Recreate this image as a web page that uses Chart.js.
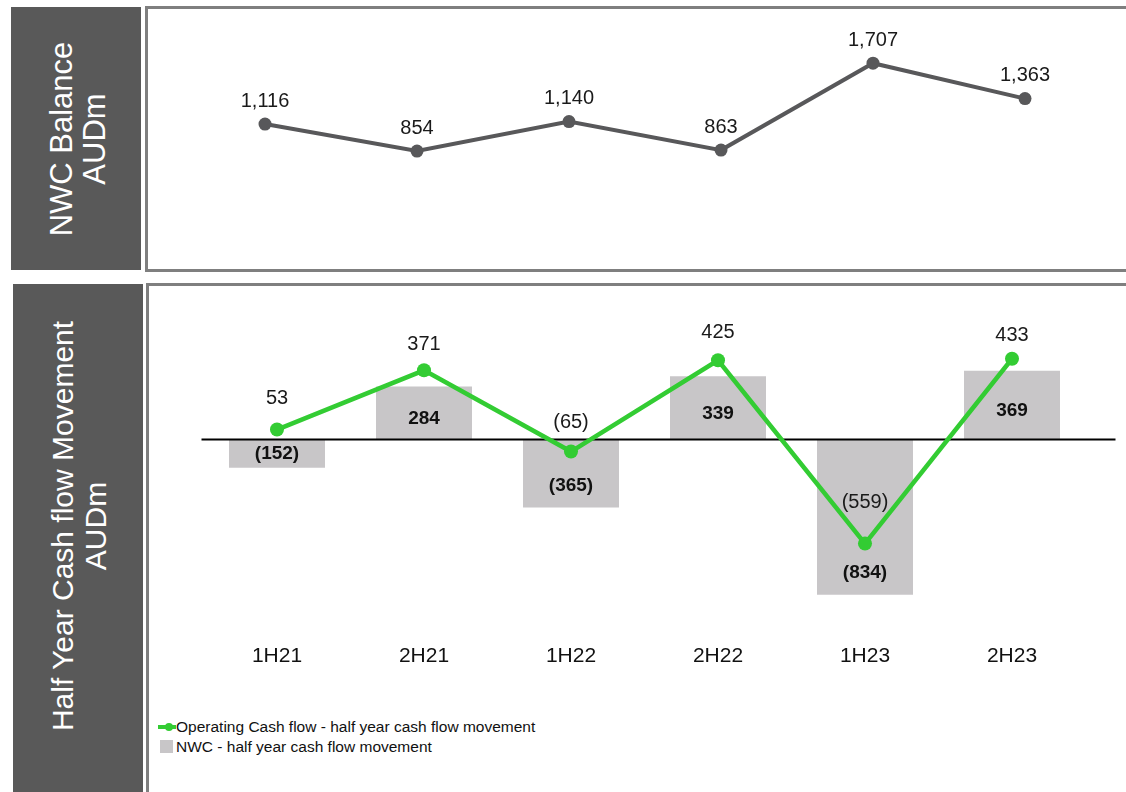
<!DOCTYPE html>
<html>
<head>
<meta charset="utf-8">
<script src="https://cdn.jsdelivr.net/npm/chart.js@4.4.0/dist/chart.umd.min.js"></script>
<style>
  body { margin: 0; background: #fff; width: 1126px; height: 792px; overflow: hidden; position: relative; font-family: 'Liberation Sans', Arial, sans-serif; }
  .side { position: absolute; background: #595959; overflow: hidden; }
  .side .txt { position: absolute; color: #fff; line-height: 33px; text-align: center; white-space: nowrap; transform: translate(-50%, -50%) rotate(-90deg); }
  .box { position: absolute; border: 3px solid #7f7f7f; background: #fff; }
  .wrap { position: absolute; }
  .legend { position: absolute; left: 158px; top: 717px; font-size: 15.5px; color: #111; }
  .legend div { position: relative; height: 20px; line-height: 20px; padding-left: 18px; }
  .legend .ln { position: absolute; left: 0; top: 8px; width: 18px; height: 4px; background: #33cc33; }
  .legend .dot { position: absolute; left: 7px; top: 6px; width: 8px; height: 8px; border-radius: 50%; background: #33cc33; }
  .legend .sq { position: absolute; left: 2px; top: 3px; width: 13px; height: 13px; background: #c8c6c8; }
</style>
</head>
<body>
<div class="side" style="left:11px; top:7px; width:130px; height:263px;">
  <div class="txt" style="left:67px; top:132px; font-size:31px;">NWC Balance<br>AUDm</div>
</div>
<div class="box" style="left:145px; top:6px; width:1000px; height:260px;"></div>
<div class="wrap" style="left:148px; top:9px; width:978px; height:260px;"><canvas id="balanceChart"></canvas></div>

<div class="side" style="left:13px; top:284px; width:130px; height:520px;">
  <div class="txt" style="left:66px; top:242px; font-size:30px;">Half Year Cash flow Movement<br>AUDm</div>
</div>
<div class="box" style="left:146px; top:283px; width:1000px; height:530px;"></div>
<div class="wrap" style="left:150px; top:286px; width:976px; height:420px;"><canvas id="movementChart"></canvas></div>

<div class="legend">
  <div><span class="ln"></span><span class="dot"></span>Operating Cash flow - half year cash flow movement</div>
  <div><span class="sq"></span>NWC - half year cash flow movement</div>
</div>

<script>
const periods = ['1H21', '2H21', '1H22', '2H22', '1H23', '2H23'];
const nwcBalance = [1116, 854, 1140, 863, 1707, 1363];
const operatingCashFlow = [53, 371, -65, 425, -559, 433];
const nwcMovement = [-152, 284, -365, 339, -834, 369];

Chart.defaults.font.family = "'Liberation Sans', Arial, sans-serif";
Chart.defaults.color = '#1a1a1a';
Chart.defaults.animation = false;

// negatives shown in brackets, thousands with commas
function fmt(v) {
    const s = Math.abs(v).toLocaleString('en-US');
    return v < 0 ? '(' + s + ')' : s;
}

// how far above each cash flow point its label sits
const cashLabelLift = [31, 26, 29, 28, 41, 23];

const balanceLabels = {
    id: 'balanceLabels',
    afterDatasetsDraw(chart) {
        const ctx = chart.ctx;
        const meta = chart.getDatasetMeta(0);
        ctx.save();
        ctx.font = '20px "Liberation Sans", Arial, sans-serif';
        ctx.fillStyle = '#1a1a1a';
        ctx.textAlign = 'center';
        ctx.textBaseline = 'middle';
        meta.data.forEach(function(pt, i) {
            ctx.fillText(fmt(nwcBalance[i]), pt.x, pt.y - 23);
        });
        ctx.restore();
    }
};

const movementExtras = {
    id: 'movementExtras',
    afterDatasetDraw(chart, args) {
        if (args.index !== 1) return;
        const ctx = chart.ctx;
        const area = chart.chartArea;
        const y0 = chart.scales.y.getPixelForValue(0);
        // zero line
        ctx.save();
        ctx.strokeStyle = '#000';
        ctx.lineWidth = 2;
        ctx.beginPath();
        ctx.moveTo(area.left - 2, y0);
        ctx.lineTo(area.right + 30, y0);
        ctx.stroke();
        ctx.restore();
    },
    afterDatasetsDraw(chart) {
        const ctx = chart.ctx;
        const bars = chart.getDatasetMeta(1).data;
        const pts = chart.getDatasetMeta(0).data;
        ctx.save();
        ctx.textAlign = 'center';
        ctx.textBaseline = 'middle';
        ctx.fillStyle = '#111';
        ctx.font = 'bold 19px "Liberation Sans", Arial, sans-serif';
        bars.forEach(function(bar, i) {
            const v = nwcMovement[i];
            const mid = (bar.y + bar.base) / 2;
            const y = v < 0 ? Math.max(mid, bar.y - 22) : mid + 6;
            ctx.fillText(fmt(v), bar.x, y);
        });
        ctx.font = '20px "Liberation Sans", Arial, sans-serif';
        ctx.fillStyle = '#1a1a1a';
        pts.forEach(function(pt, i) {
            ctx.fillText(fmt(operatingCashFlow[i]), pt.x, pt.y - cashLabelLift[i]);
        });
        ctx.restore();
    }
};

new Chart(document.getElementById('balanceChart'), {
    type: 'line',
    data: {
        labels: periods,
        datasets: [{
            label: 'NWC Balance',
            data: nwcBalance,
            borderColor: '#58585a',
            backgroundColor: '#58585a',
            borderWidth: 4,
            pointRadius: 6.5,
            pointBorderWidth: 0,
            tension: 0
        }]
    },
    options: {
        responsive: true,
        maintainAspectRatio: false,
        layout: { padding: { left: 41, right: 25, top: 24, bottom: 30 } },
        plugins: { legend: { display: false }, tooltip: { enabled: false } },
        scales: {
            x: { display: false, offset: true },
            y: { display: false, min: 0, max: 2000 }
        }
    },
    plugins: [balanceLabels]
});

new Chart(document.getElementById('movementChart'), {
    type: 'bar',
    data: {
        labels: periods,
        datasets: [
            {
                type: 'line',
                label: 'Operating Cash flow - half year cash flow movement',
                data: operatingCashFlow,
                borderColor: '#33cc33',
                backgroundColor: '#33cc33',
                borderWidth: 4.5,
                pointRadius: 7,
                pointBorderWidth: 0,
                tension: 0,
                order: 0
            },
            {
                type: 'bar',
                label: 'NWC - half year cash flow movement',
                data: nwcMovement,
                backgroundColor: '#c8c6c8',
                categoryPercentage: 1,
                barPercentage: 0.653,
                order: 1
            }
        ]
    },
    options: {
        responsive: true,
        maintainAspectRatio: false,
        layout: { padding: { left: 53.5, right: 40.5, top: 23, bottom: 19 } },
        plugins: { legend: { display: false }, tooltip: { enabled: false } },
        scales: {
            x: {
                grid: { display: false, drawTicks: false },
                border: { display: false },
                ticks: { padding: 18, color: '#111', font: { size: 21 } }
            },
            y: { display: false, min: -1000, max: 700 }
        }
    },
    plugins: [movementExtras]
});
</script>
</body>
</html>
